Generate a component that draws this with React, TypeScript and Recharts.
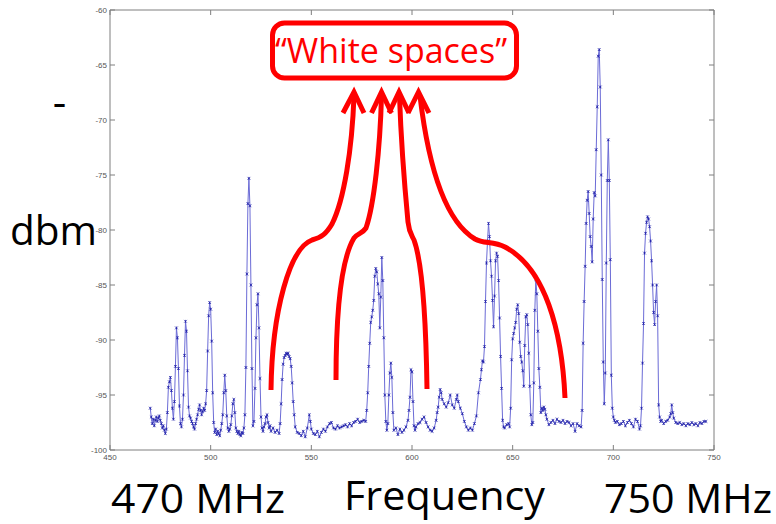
import React from 'react';
import { LineChart, Line, XAxis, YAxis } from 'recharts';

const xTicks = [450, 500, 550, 600, 650, 700, 750];
const yTicks = [-100, -95, -90, -85, -80, -75, -70, -65, -60];

// [frequency MHz, power dBm]
const band470to530: [number, number][] = [
  [470, -96.2], [470.5, -97.0], [471, -97.6], [471.5, -97.2], [472, -97.8], [472.5, -97.3], [473, -97.0],
  [473.5, -97.4], [474, -97.1], [474.5, -96.9], [475, -97.3], [475.5, -97.6], [476, -98.0], [476.5, -97.8],
  [477, -98.2], [477.5, -98.5], [478, -98.1], [478.5, -96.6], [479, -94.3], [479.5, -93.8], [480, -93.4],
  [480.5, -94.6], [481, -96.2], [481.5, -97.2], [482, -95.6], [482.5, -92.4], [483, -88.9], [483.5, -89.8],
  [484, -92.6], [484.5, -96.0], [485, -97.6], [485.5, -97.9], [486, -97.2], [486.5, -95.0], [487, -91.4],
  [487.5, -88.3], [488, -89.2], [488.5, -92.8], [489, -96.1], [489.5, -96.9], [490, -97.1], [490.5, -97.4],
  [491, -97.6], [491.5, -97.9], [492, -98.1], [492.5, -97.6], [493, -97.2], [493.5, -96.8], [494, -96.3],
  [494.5, -95.9], [495, -96.4], [495.5, -96.8], [496, -96.5], [496.5, -96.2], [497, -96.4], [497.5, -95.8],
  [498, -94.6], [498.5, -91.0], [499, -87.8], [499.5, -86.6], [500, -87.2], [500.5, -90.1], [501, -94.8],
  [501.5, -97.5], [502, -98.4], [502.5, -98.1], [503, -98.6], [503.5, -98.3], [504, -98.5], [504.5, -98.7],
  [505, -98.2], [505.5, -97.6], [506, -96.8], [506.5, -94.8], [507, -93.2], [507.5, -94.6], [508, -96.9],
  [508.5, -98.0], [509, -98.3], [509.5, -98.1], [510, -97.7], [510.5, -96.9], [511, -95.8], [511.5, -95.4],
  [512, -96.6], [512.5, -98.0], [513, -98.3], [513.5, -98.5], [514, -98.3], [514.5, -98.6], [515, -98.7],
  [515.5, -98.4], [516, -98.5], [516.5, -98.0], [517, -96.8], [517.5, -92.5], [518, -84.0], [518.5, -77.6],
  [519, -75.3], [519.5, -77.8], [520, -85.0], [520.5, -92.6], [521, -97.8], [521.5, -97.4], [522, -94.4],
  [522.5, -89.8], [523, -86.8], [523.5, -85.8], [524, -88.9], [524.5, -93.5], [525, -97.0], [525.5, -98.0],
  [526, -98.3], [526.5, -97.9], [527, -97.6], [527.5, -97.0], [528, -96.8], [528.5, -97.5], [529, -98.0],
  [529.5, -97.8],
];

const band530to601: [number, number][] = [
  [530, -98.3], [531, -98.0], [532, -98.4], [533, -98.2], [534, -98.5], [534.5, -97.6], [535, -95.8],
  [535.5, -93.6], [536, -92.2], [536.5, -91.6], [537, -91.4], [537.5, -91.2], [538, -91.3], [538.5, -91.2],
  [539, -91.5], [539.5, -91.7], [540, -92.4], [540.5, -93.9], [541, -95.6], [541.5, -96.8], [542, -97.9],
  [543, -98.4], [544, -98.5], [545, -98.7], [546, -98.3], [547, -98.8], [548, -98.0], [549, -96.8],
  [549.5, -97.4], [550, -98.1], [551, -98.5], [552, -98.6], [553, -98.3], [554, -98.8], [555, -98.4],
  [556, -98.1], [557, -98.3], [558, -97.9], [559, -97.6], [560, -97.5], [561, -98.0], [562, -98.1],
  [563, -97.8], [564, -98.0], [565, -97.9], [566, -97.8], [567, -97.7], [568, -97.9], [569, -97.6],
  [570, -97.8], [571, -97.5], [572, -97.4], [573, -97.2], [574, -97.5], [575, -97.4], [576, -97.3],
  [577, -97.4], [577.5, -96.4], [578, -94.8], [578.5, -92.4], [579, -90.3], [579.5, -88.4], [580, -87.9],
  [580.5, -87.3], [581, -86.4], [581.5, -84.2], [582, -83.5], [582.5, -83.8], [583, -84.9], [583.5, -85.8],
  [584, -88.9], [584.5, -86.1], [585, -82.5], [585.5, -84.6], [586, -89.8], [586.5, -95.0], [587, -97.4],
  [587.5, -98.2], [588, -97.6], [588.5, -95.0], [589, -93.0], [589.5, -92.1], [590, -93.4], [590.5, -96.6],
  [591, -98.2], [592, -98.0], [593, -98.6], [594, -98.1], [595, -98.4], [596, -98.2], [597, -97.9],
  [598, -97.3], [598.5, -96.4], [599, -95.2], [599.5, -92.7], [600, -92.9], [600.5, -95.6], [601, -97.8],
];

const band601to684: [number, number][] = [
  [601.5, -98.2], [602, -97.9], [603, -97.6], [604, -97.5], [605, -97.2], [606, -97.0], [607, -97.5],
  [608, -97.9], [609, -98.2], [610, -98.3], [611, -98.0], [612, -97.3], [612.5, -96.6], [613, -96.1],
  [613.5, -95.2], [614, -94.5], [614.5, -94.8], [615, -95.4], [616, -95.8], [617, -96.1], [618, -95.7],
  [619, -95.0], [620, -95.9], [621, -96.2], [622, -95.4], [622.5, -95.0], [623, -95.6], [624, -96.2],
  [625, -96.7], [626, -97.4], [627, -97.9], [628, -98.2], [629, -98.0], [630, -98.2], [631, -97.6],
  [632, -96.9], [633, -94.8], [634, -93.6], [634.5, -92.7], [635, -91.9], [635.5, -92.0], [636, -90.6],
  [636.5, -86.5], [637, -83.0], [637.5, -81.0], [638, -79.4], [638.5, -80.6], [639, -82.8], [639.5, -84.2],
  [640, -86.4], [640.5, -88.8], [641, -86.0], [641.5, -82.8], [642, -82.1], [642.5, -82.4], [643, -84.6],
  [643.5, -88.0], [644, -91.5], [644.5, -94.4], [645, -97.3], [645.5, -97.9], [646, -98.0], [647, -97.7],
  [648, -97.6], [648.5, -97.9], [649, -96.2], [649.5, -91.8], [650, -89.9], [650.5, -89.4], [651, -88.9],
  [651.5, -88.4], [652, -87.2], [652.5, -86.8], [653, -87.6], [653.5, -90.2], [654, -91.5], [654.5, -92.0],
  [655, -92.8], [655.5, -94.2], [656, -90.5], [656.5, -87.9], [657, -87.7], [657.5, -88.6], [658, -91.2],
  [658.5, -94.2], [659, -96.8], [659.5, -97.7], [660, -97.5], [660.5, -93.9], [661, -87.3], [661.5, -84.5],
  [662, -85.8], [662.5, -89.2], [663, -92.6], [663.5, -94.3], [664, -96.6], [664.5, -96.2], [665, -96.4],
  [665.5, -96.1], [666, -96.3], [666.5, -96.8], [667, -97.2], [668, -97.7], [669, -97.5], [670, -97.3],
  [671, -97.6], [672, -97.2], [673, -97.4], [674, -97.5], [675, -97.3], [676, -97.6], [677, -97.4],
  [678, -97.5], [679, -97.8], [680, -97.6], [681, -98.3], [682, -97.6], [683, -97.8], [684, -97.9],
];

const band684to746: [number, number][] = [
  [684.5, -96.4], [685, -90.3], [685.5, -86.5], [686, -83.3], [686.5, -79.4], [687, -77.3], [687.5, -76.5],
  [688, -78.5], [688.5, -80.6], [689, -81.5], [689.5, -82.9], [690, -79.0], [690.5, -76.6], [691, -76.9],
  [691.5, -72.7], [692, -68.8], [692.5, -64.2], [693, -63.6], [693.5, -67.0], [694, -75.0], [694.5, -84.5],
  [695, -92.0], [695.5, -95.8], [696, -93.0], [696.5, -83.0], [697, -75.5], [697.5, -71.8], [698, -75.5],
  [698.5, -82.7], [699, -93.2], [699.5, -96.2], [700, -97.0], [700.5, -97.3], [701, -97.5], [702, -97.4],
  [703, -97.7], [704, -97.6], [705, -97.4], [706, -97.8], [707, -97.5], [708, -97.3], [709, -97.6],
  [710, -97.9], [711, -97.2], [712, -97.4], [713, -98.1], [713.5, -97.8], [714, -96.2], [714.5, -92.1],
  [715, -88.5], [715.5, -82.1], [716, -80.3], [716.5, -79.3], [717, -78.8], [717.5, -79.0], [718, -79.7],
  [718.5, -81.0], [719, -82.8], [719.5, -85.0], [720, -87.5], [720.5, -88.6], [721, -86.5], [721.5, -85.0],
  [722, -87.8], [722.5, -95.9], [723, -97.0], [723.5, -97.4], [724, -97.3], [725, -97.6], [726, -97.4],
  [727, -97.3], [728, -97.0], [728.5, -96.7], [729, -95.9], [729.5, -96.6], [730, -97.1], [731, -97.5],
  [732, -97.6], [733, -97.5], [734, -97.7], [735, -97.6], [736, -97.8], [737, -97.6], [738, -97.7],
  [739, -97.5], [740, -97.7], [741, -97.6], [742, -97.8], [743, -97.5], [744, -97.6], [745, -97.4],
  [746, -97.4],
];

const spectrum = [...band470to530, ...band530to601, ...band601to684, ...band684to746].map(
  ([f, v]) => ({ f, v })
);

const CHART_W = 776;
const CHART_H = 524;
const PLOT = { left: 110, top: 10, right: 714, bottom: 450 };

const AXIS_GRAY = '#7f7f7f';
const TICK_FONT = 'Liberation Sans, Arial, sans-serif';
const RED = '#ff0000';
const LABEL_FONT = 'Open Sans, sans-serif';
const TICK_LEN = 5;

// Bottom axis tick: inward ticks on bottom and top edges, label below.
const BottomTick = (props: any) => {
  const { x, payload } = props;
  return (
    <g>
      <line x1={x} y1={PLOT.bottom} x2={x} y2={PLOT.bottom - TICK_LEN} stroke={AXIS_GRAY} strokeWidth={1} />
      <line x1={x} y1={PLOT.top} x2={x} y2={PLOT.top + TICK_LEN} stroke={AXIS_GRAY} strokeWidth={1} />
      <text x={x} y={PLOT.bottom + 10} textAnchor="middle" fontSize={8} fill="#555" fontFamily={TICK_FONT}>
        {payload.value}
      </text>
    </g>
  );
};

// Left axis tick: inward ticks on left and right edges, label at left.
const LeftTick = (props: any) => {
  const { y, payload } = props;
  return (
    <g>
      <line x1={PLOT.left} y1={y} x2={PLOT.left + TICK_LEN} y2={y} stroke={AXIS_GRAY} strokeWidth={1} />
      <line x1={PLOT.right} y1={y} x2={PLOT.right - TICK_LEN} y2={y} stroke={AXIS_GRAY} strokeWidth={1} />
      <text x={PLOT.left - 3} y={y + 3} textAnchor="end" fontSize={8} fill="#555" fontFamily={TICK_FONT}>
        {payload.value}
      </text>
    </g>
  );
};

const CrossDot = (props: any) => {
  const { cx, cy, index } = props;
  if (cx == null || cy == null) return <g key={`e${index}`} />;
  const s = 1.4;
  return (
    <path
      key={`d${index}`}
      d={`M${cx - s},${cy - s}L${cx + s},${cy + s}M${cx - s},${cy + s}L${cx + s},${cy - s}M${cx},${cy - s}L${cx},${cy + s}`}
      stroke="#1c1ca8"
      strokeWidth={0.7}
      fill="none"
    />
  );
};

const Annotations = () => (
  <svg
    width={CHART_W}
    height={CHART_H}
    style={{ position: 'absolute', left: 0, top: 0, pointerEvents: 'none' }}
  >
    <rect x={272.5} y={23} width={244} height={55} rx={12} ry={12} fill="white" stroke={RED} strokeWidth={5} />
    <text x={275} y={63} fontFamily={LABEL_FONT} fontSize={34} fill={RED} textLength={232} lengthAdjust="spacingAndGlyphs">
      “White spaces”
    </text>
    <g fill="none" stroke={RED} strokeWidth={5}>
      <path d="M 271 390 C 272 310, 290 248, 312 240 C 322 237, 326 234, 332 224 C 344 200, 352 150, 354 96" />
      <path d="M 336 380 C 336 310, 342 258, 354 238 C 358 233, 362 234, 366 228 C 374 205, 380 150, 381.5 96" />
      <path d="M 427 389 C 426 320, 422 262, 414 240 C 411 234, 409 232, 408 222 C 404 180, 401 140, 399.5 96" />
      <path d="M 565 398 C 562 330, 545 268, 505 247 C 493 241, 484 244, 475 239 C 450 224, 430 180, 420 96" />
    </g>
    <g fill="none" stroke={RED} strokeWidth={5} strokeLinejoin="miter" strokeMiterlimit={10}>
      <polyline points="343,113 354,92 364,113" />
      <polyline points="371.5,113 381.5,92 391.5,113" />
      <polyline points="389,113 399,92 409,113" />
      <polyline points="408,113 418.5,92 429,113" />
    </g>
    <text x={59.5} y={117} textAnchor="middle" fontFamily={LABEL_FONT} fontSize={42} fill="#000">-</text>
    <text x={10} y={245} fontFamily={LABEL_FONT} fontSize={40} fill="#000" textLength={87} lengthAdjust="spacingAndGlyphs">dbm</text>
    <text x={111} y={513} fontFamily={LABEL_FONT} fontSize={40} fill="#000" textLength={174} lengthAdjust="spacingAndGlyphs">470 MHz</text>
    <text x={344} y={510} fontFamily={LABEL_FONT} fontSize={40} fill="#000" textLength={201} lengthAdjust="spacingAndGlyphs">Frequency</text>
    <text x={604} y={513} fontFamily={LABEL_FONT} fontSize={40} fill="#000" textLength={168} lengthAdjust="spacingAndGlyphs">750 MHz</text>
  </svg>
);

export default function App() {
  return (
    <div style={{ position: 'absolute', left: 0, top: 0, width: CHART_W, height: CHART_H, background: '#fff' }}>
      <LineChart
        width={CHART_W}
        height={CHART_H}
        data={spectrum}
        margin={{
          top: PLOT.top - 1,
          right: CHART_W - PLOT.right - 1,
          bottom: CHART_H - PLOT.bottom - 1,
          left: PLOT.left - 1,
        }}
      >
        <XAxis
          dataKey="f"
          type="number"
          domain={[450, 750]}
          ticks={xTicks}
          interval={0}
          allowDataOverflow
          height={1}
          tickLine={false}
          tick={BottomTick}
          axisLine={{ stroke: AXIS_GRAY, strokeWidth: 1 }}
        />
        <XAxis
          xAxisId="top"
          orientation="top"
          type="number"
          domain={[450, 750]}
          allowDataOverflow
          height={1}
          tickLine={false}
          tick={false}
          axisLine={{ stroke: AXIS_GRAY, strokeWidth: 1 }}
        />
        <YAxis
          type="number"
          domain={[-100, -60]}
          ticks={yTicks}
          interval={0}
          allowDataOverflow
          width={1}
          tickLine={false}
          tick={LeftTick}
          axisLine={{ stroke: AXIS_GRAY, strokeWidth: 1 }}
        />
        <YAxis
          yAxisId="right"
          orientation="right"
          type="number"
          domain={[-100, -60]}
          allowDataOverflow
          width={1}
          tickLine={false}
          tick={false}
          axisLine={{ stroke: AXIS_GRAY, strokeWidth: 1 }}
        />
        <Line
          type="linear"
          dataKey="v"
          stroke="#6b6bd6"
          strokeWidth={1}
          dot={CrossDot}
          activeDot={false}
          isAnimationActive={false}
        />
      </LineChart>
      <Annotations />
    </div>
  );
}
